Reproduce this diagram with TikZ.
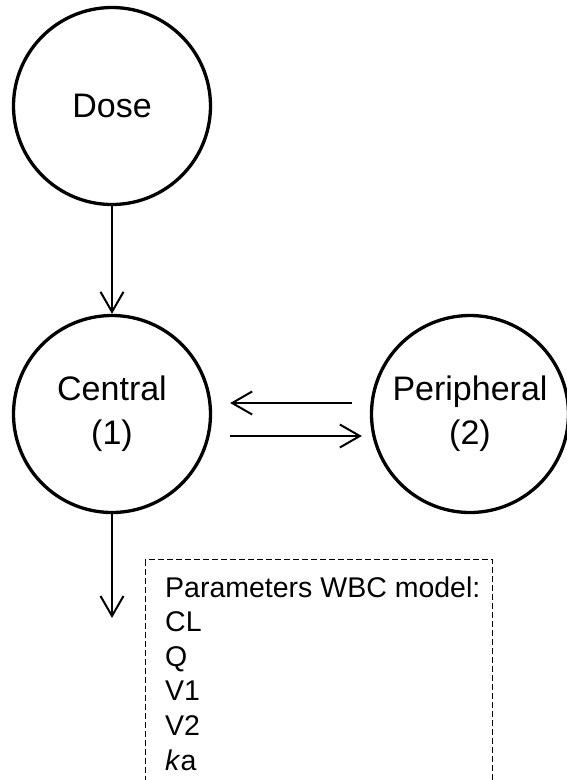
\documentclass[tikz,border=0pt]{standalone}
\usepackage{fontspec}
\setmainfont{Liberation Sans}
\usetikzlibrary{arrows.meta}
\begin{document}
\begin{tikzpicture}[x=1pt,y=-1pt,
  comp/.style={circle,draw,line width=3.3pt,minimum size=197pt,inner sep=0pt,
    align=center,font=\fontsize{34}{44}\selectfont},
  arr/.style={line width=2pt,-{Straight Barb[length=20pt,width=23pt,line width=2pt]}},
  parbox/.style={draw,line width=1pt,dash pattern=on 6pt off 3pt}]
\useasboundingbox (0,0) rectangle (567,780);
\clip (0,0) rectangle (567,780);
\node[comp] (dose) at (112,106) {Dose};
\node[comp] (cen) at (112,414) {Central\\(1)};
\node[comp] (per) at (470,414) {Peripheral\\(2)};
\coordinate (elim) at (112,618);
\draw[arr] (dose.south) -- (cen.north);
\draw[arr] (cen.south) -- (elim);
\coordinate (p1) at ([shift={(-18,-11)}]per.west);
\coordinate (c1) at (cen.east |- p1);
\coordinate (c2) at ([shift={(18,22)}]cen.east);
\coordinate (p2) at ([shift={(-8,22)}]per.west);
\draw[arr] (p1) -- ([xshift=18pt]c1);
\draw[arr] (c2) -- (p2);
\node[parbox,minimum width=347pt,minimum height=260pt,anchor=north west] (box) at (145,559) {};
\node[anchor=base west,align=left,inner sep=0pt,font=\fontsize{28.5}{34.6}\selectfont] (params) at (165,770)
  {Parameters WBC model:\\CL\\Q\\V1\\V2\\\textit{k}a};
\end{tikzpicture}
\end{document}
